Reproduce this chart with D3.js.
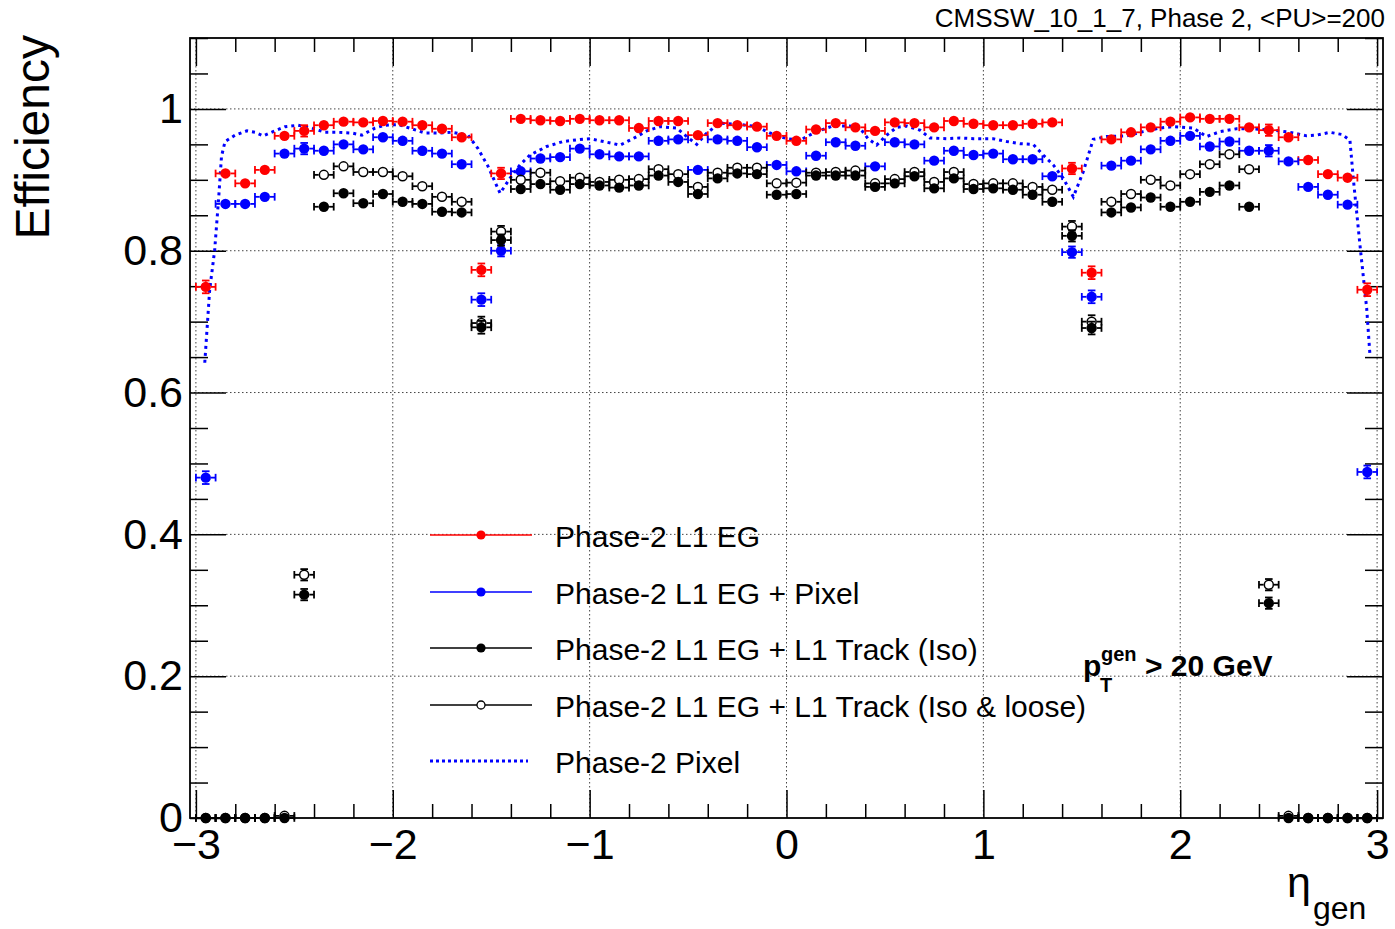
<!DOCTYPE html>
<html>
<head>
<meta charset="utf-8">
<script src="https://cdn.jsdelivr.net/npm/d3@7"></script>
<style>
body { margin: 0; background: #fff; }
text { font-family: "Liberation Sans", Arial, Helvetica, sans-serif; }
</style>
</head>
<body>
<script>
// eta bin centres (60 bins of 0.1)
var etaBins = [-2.95, -2.85, -2.75, -2.65, -2.55, -2.45, -2.35, -2.25, -2.15, -2.05,
  -1.95, -1.85, -1.75, -1.65, -1.55, -1.45, -1.35, -1.25, -1.15, -1.05,
  -0.95, -0.85, -0.75, -0.65, -0.55, -0.45, -0.35, -0.25, -0.15, -0.05,
  0.05, 0.15, 0.25, 0.35, 0.45, 0.55, 0.65, 0.75, 0.85, 0.95,
  1.05, 1.15, 1.25, 1.35, 1.45, 1.55, 1.65, 1.75, 1.85, 1.95,
  2.05, 2.15, 2.25, 2.35, 2.45, 2.55, 2.65, 2.75, 2.85, 2.95];
var binHalfWidth = 0.05;

// Phase-2 L1 EG
var effEG = [0.749, 0.909, 0.895, 0.914, 0.962, 0.969, 0.977, 0.982, 0.981, 0.983,
  0.982, 0.977, 0.972, 0.960, 0.773, 0.909, 0.986, 0.984, 0.983, 0.986,
  0.984, 0.984, 0.973, 0.983, 0.983, 0.963, 0.980, 0.977, 0.975, 0.962,
  0.955, 0.971, 0.980, 0.974, 0.969, 0.981, 0.980, 0.974, 0.983, 0.979,
  0.977, 0.977, 0.979, 0.981, 0.916, 0.769, 0.957, 0.967, 0.974, 0.982,
  0.988, 0.986, 0.986, 0.974, 0.970, 0.960, 0.928, 0.908, 0.903, 0.745];

// Phase-2 L1 EG + Pixel
var effEGPixel = [0.480, 0.866, 0.866, 0.876, 0.937, 0.944, 0.941, 0.950, 0.943, 0.960,
  0.955, 0.941, 0.937, 0.922, 0.731, 0.800, 0.912, 0.930, 0.932, 0.944,
  0.936, 0.933, 0.933, 0.955, 0.957, 0.914, 0.957, 0.955, 0.946, 0.921,
  0.912, 0.934, 0.953, 0.948, 0.919, 0.953, 0.950, 0.927, 0.941, 0.935,
  0.937, 0.929, 0.929, 0.905, 0.798, 0.735, 0.920, 0.927, 0.943, 0.955,
  0.962, 0.947, 0.954, 0.941, 0.941, 0.926, 0.890, 0.879, 0.865, 0.488];

// Phase-2 L1 EG + L1 Track (Iso)
var effTrkIso = [0, 0, 0, 0, 0, 0.315, 0.862, 0.881, 0.867, 0.880,
  0.869, 0.866, 0.855, 0.854, 0.692, 0.815, 0.887, 0.894, 0.886, 0.894,
  0.892, 0.889, 0.892, 0.906, 0.897, 0.880, 0.902, 0.909, 0.908, 0.879,
  0.880, 0.906, 0.906, 0.906, 0.890, 0.895, 0.905, 0.888, 0.902, 0.887,
  0.888, 0.886, 0.879, 0.869, 0.821, 0.691, 0.854, 0.861, 0.875, 0.862,
  0.869, 0.883, 0.892, 0.862, 0.303, 0, 0, 0, 0, 0];

// Phase-2 L1 EG + L1 Track (Iso & loose)
var effTrkIsoLoose = [0, 0, 0, 0, 0.003, 0.343, 0.907, 0.919, 0.911, 0.911,
  0.905, 0.891, 0.876, 0.869, 0.698, 0.827, 0.900, 0.910, 0.898, 0.903,
  0.897, 0.900, 0.901, 0.915, 0.908, 0.890, 0.910, 0.917, 0.917, 0.895,
  0.896, 0.910, 0.911, 0.913, 0.895, 0.901, 0.911, 0.897, 0.911, 0.894,
  0.895, 0.895, 0.890, 0.886, 0.834, 0.700, 0.869, 0.880, 0.900, 0.892,
  0.908, 0.922, 0.936, 0.915, 0.329, 0.003, 0, 0, 0, 0];

// statistical error (vertical), larger in the edge / gap bins
var errY = [0.009, 0.004, 0.004, 0.004, 0.004, 0.008, 0.004, 0.004, 0.004, 0.004,
  0.004, 0.004, 0.004, 0.004, 0.009, 0.008, 0.004, 0.004, 0.004, 0.004,
  0.004, 0.004, 0.004, 0.004, 0.004, 0.004, 0.004, 0.004, 0.004, 0.004,
  0.004, 0.004, 0.004, 0.004, 0.004, 0.004, 0.004, 0.004, 0.004, 0.004,
  0.004, 0.004, 0.004, 0.004, 0.008, 0.009, 0.004, 0.004, 0.004, 0.004,
  0.004, 0.004, 0.004, 0.004, 0.008, 0.004, 0.004, 0.004, 0.004, 0.009];

// Phase-2 Pixel (fine binned curve)
var etaPixel = [-2.955, -2.93, -2.905, -2.885, -2.87, -2.852, -2.801, -2.741, -2.699, -2.659,
  -2.608, -2.547, -2.481, -2.411, -2.344, -2.278, -2.208, -2.157, -2.090, -2.039,
  -1.973, -1.904, -1.836, -1.770, -1.700, -1.618, -1.567, -1.516, -1.455, -1.405,
  -1.354, -1.303, -1.218, -1.135, -1.049, -0.998, -0.913, -0.845, -0.780, -0.710,
  -0.642, -0.558, -0.507, -0.456, -0.405, -0.338, -0.236, -0.151, -0.084, 0.001,
  0.069, 0.153, 0.236, 0.322, 0.373, 0.414, 0.458, 0.509, 0.560, 0.610,
  0.678, 0.729, 0.814, 0.881, 0.949, 1.050, 1.118, 1.186, 1.253, 1.304,
  1.355, 1.406, 1.457, 1.507, 1.558, 1.626, 1.728, 1.812, 1.897, 1.964,
  2.066, 2.134, 2.202, 2.286, 2.371, 2.472, 2.557, 2.642, 2.693, 2.760,
  2.820, 2.862, 2.879, 2.913, 2.947, 2.963];
var effPixel = [0.642, 0.745, 0.800, 0.872, 0.933, 0.954, 0.963, 0.969, 0.967, 0.962,
  0.968, 0.975, 0.977, 0.973, 0.967, 0.967, 0.966, 0.963, 0.973, 0.977,
  0.978, 0.972, 0.966, 0.966, 0.967, 0.963, 0.944, 0.919, 0.881, 0.902,
  0.921, 0.935, 0.947, 0.954, 0.957, 0.958, 0.953, 0.949, 0.958, 0.969,
  0.975, 0.973, 0.961, 0.950, 0.966, 0.980, 0.978, 0.975, 0.966, 0.958,
  0.956, 0.968, 0.976, 0.976, 0.973, 0.958, 0.949, 0.963, 0.974, 0.976,
  0.970, 0.959, 0.958, 0.959, 0.958, 0.958, 0.954, 0.951, 0.950, 0.935,
  0.921, 0.902, 0.876, 0.911, 0.957, 0.961, 0.962, 0.968, 0.973, 0.975,
  0.973, 0.961, 0.968, 0.972, 0.972, 0.970, 0.967, 0.962, 0.963, 0.967,
  0.964, 0.956, 0.902, 0.808, 0.719, 0.656];

var xTicks = [-3, -2, -1, 0, 1, 2, 3];
var yTicks = [0, 0.2, 0.4, 0.6, 0.8, 1];

var legendLabels = ["Phase-2 L1 EG", "Phase-2 L1 EG + Pixel", "Phase-2 L1 EG + L1 Track (Iso)",
  "Phase-2 L1 EG + L1 Track (Iso & loose)", "Phase-2 Pixel"];

// canvas
var width = 1395;
var height = 929;
var frame = { left: 190, right: 1383, top: 38, bottom: 818 };

var svg = d3.select("body")
  .append("svg")
  .attr("width", width)
  .attr("height", height);

var xScale = d3.scaleLinear().domain([-3.03, 3.03]).range([frame.left, frame.right]);
var yScale = d3.scaleLinear().domain([0, 1.1]).range([frame.bottom, frame.top]);

var xMinor = d3.range(-3, 3.001, 0.2).map(function(d) { return +d.toFixed(2); })
  .filter(function(d) { return xTicks.indexOf(d) < 0; });
var yMinor = d3.range(0, 1.101, 0.05).map(function(d) { return +d.toFixed(2); })
  .filter(function(d) { return yTicks.indexOf(d) < 0; });

// grid (dotted)
var grid = svg.append("g").attr("class", "grid")
  .attr("stroke", "#444")
  .attr("stroke-width", 1)
  .attr("stroke-dasharray", "1.5,2.5");
grid.selectAll("line.gx").data(xTicks).enter().append("line")
  .attr("class", "gx")
  .attr("x1", function(d) { return xScale(d); })
  .attr("x2", function(d) { return xScale(d); })
  .attr("y1", frame.top).attr("y2", frame.bottom);
grid.selectAll("line.gy").data(yTicks.slice(1)).enter().append("line")
  .attr("class", "gy")
  .attr("y1", function(d) { return yScale(d); })
  .attr("y2", function(d) { return yScale(d); })
  .attr("x1", frame.left).attr("x2", frame.right);

// ticks on all four sides
function tickAxis(axis, values, size, transform) {
  var g = svg.append("g")
    .attr("transform", transform)
    .call(axis.tickValues(values).tickSize(size).tickSizeOuter(0).tickFormat(""));
  g.select(".domain").remove();
  g.selectAll("line").attr("stroke", "#000").attr("stroke-width", 1.5);
}
tickAxis(d3.axisRight(yScale), yTicks, 36, "translate(" + frame.left + ",0)");
tickAxis(d3.axisRight(yScale), yMinor, 18, "translate(" + frame.left + ",0)");
tickAxis(d3.axisLeft(yScale), yTicks, 36, "translate(" + frame.right + ",0)");
tickAxis(d3.axisLeft(yScale), yMinor, 18, "translate(" + frame.right + ",0)");
tickAxis(d3.axisTop(xScale), xTicks, 28, "translate(0," + frame.bottom + ")");
tickAxis(d3.axisTop(xScale), xMinor, 14, "translate(0," + frame.bottom + ")");
tickAxis(d3.axisBottom(xScale), xTicks, 28, "translate(0," + frame.top + ")");
tickAxis(d3.axisBottom(xScale), xMinor, 14, "translate(0," + frame.top + ")");

// tick labels
var yLabels = svg.append("g")
  .attr("transform", "translate(" + frame.left + ",0)")
  .call(d3.axisLeft(yScale).tickValues(yTicks).tickSize(0).tickPadding(7)
    .tickFormat(function(d) { return (d === 0 || d === 1) ? d3.format("d")(d) : d3.format(".1f")(d); }));
yLabels.select(".domain").remove();
yLabels.selectAll("text")
  .style("font-family", "'Liberation Sans', Arial, sans-serif")
  .style("font-size", "43px")
  .attr("fill", "#000");

var xLabels = svg.append("g")
  .attr("transform", "translate(0," + frame.bottom + ")")
  .call(d3.axisBottom(xScale).tickValues(xTicks).tickSize(0).tickPadding(10).tickFormat(d3.format("d")));
xLabels.select(".domain").remove();
xLabels.selectAll("text")
  .style("font-family", "'Liberation Sans', Arial, sans-serif")
  .style("font-size", "43px")
  .attr("fill", "#000");

// Phase-2 Pixel dotted curve
var pixelData = d3.zip(etaPixel, effPixel);
var pixelLine = d3.line()
  .x(function(d) { return xScale(d[0]); })
  .y(function(d) { return yScale(d[1]); });
svg.append("path")
  .datum(pixelData)
  .attr("d", pixelLine)
  .attr("fill", "none")
  .attr("stroke", "#0000ff")
  .attr("stroke-width", 3)
  .attr("stroke-dasharray", "3,4");

// points with error bars (ROOT style: bars stop at marker edge, with end caps)
var markerR = 5.2;
var capHalf = 3.8;

function drawSeries(values, color, open) {
  var g = svg.append("g").attr("stroke", color).attr("stroke-width", 1.8);
  var pts = etaBins.map(function(eta, i) { return { eta: eta, v: values[i], e: errY[i] }; });
  var p = g.selectAll("g.pt").data(pts).enter().append("g").attr("class", "pt");

  // horizontal error bar, left and right of marker
  p.append("line")
    .attr("x1", function(d) { return xScale(d.eta - binHalfWidth); })
    .attr("x2", function(d) { return xScale(d.eta) - markerR; })
    .attr("y1", function(d) { return yScale(d.v); })
    .attr("y2", function(d) { return yScale(d.v); });
  p.append("line")
    .attr("x1", function(d) { return xScale(d.eta) + markerR; })
    .attr("x2", function(d) { return xScale(d.eta + binHalfWidth); })
    .attr("y1", function(d) { return yScale(d.v); })
    .attr("y2", function(d) { return yScale(d.v); });
  [-1, 1].forEach(function(s) {
    p.append("line")
      .attr("x1", function(d) { return xScale(d.eta + s * binHalfWidth); })
      .attr("x2", function(d) { return xScale(d.eta + s * binHalfWidth); })
      .attr("y1", function(d) { return yScale(d.v) - capHalf; })
      .attr("y2", function(d) { return yScale(d.v) + capHalf; });
  });

  // vertical error bar, only where it sticks out of the marker
  var pv = p.filter(function(d) { return d.v > 0 && (yScale(d.v) - yScale(d.v + d.e)) > markerR; });
  [-1, 1].forEach(function(s) {
    pv.append("line")
      .attr("x1", function(d) { return xScale(d.eta); })
      .attr("x2", function(d) { return xScale(d.eta); })
      .attr("y1", function(d) { return yScale(d.v) - s * markerR; })
      .attr("y2", function(d) { return yScale(d.v + s * d.e); });
    pv.append("line")
      .attr("x1", function(d) { return xScale(d.eta) - capHalf; })
      .attr("x2", function(d) { return xScale(d.eta) + capHalf; })
      .attr("y1", function(d) { return yScale(d.v + s * d.e); })
      .attr("y2", function(d) { return yScale(d.v + s * d.e); });
  });

  p.append("circle")
    .attr("cx", function(d) { return xScale(d.eta); })
    .attr("cy", function(d) { return yScale(d.v); })
    .attr("r", open ? markerR - 0.7 : markerR)
    .attr("fill", open ? "none" : color)
    .attr("stroke", open ? color : "none")
    .attr("stroke-width", 1.5);
}

drawSeries(effEG, "#ff0000", false);
drawSeries(effEGPixel, "#0000ff", false);
drawSeries(effTrkIso, "#000000", false);
drawSeries(effTrkIsoLoose, "#000000", true);

// frame
svg.append("rect")
  .attr("x", frame.left).attr("y", frame.top)
  .attr("width", frame.right - frame.left)
  .attr("height", frame.bottom - frame.top)
  .attr("fill", "none")
  .attr("stroke", "#000")
  .attr("stroke-width", 1.8);

// legend
var legendY = [535, 592, 648, 705, 761];
var legendStyle = [
  { color: "#ff0000", marker: "filled" },
  { color: "#0000ff", marker: "filled" },
  { color: "#000000", marker: "filled" },
  { color: "#000000", marker: "open" },
  { color: "#0000ff", marker: "dotted" }
];
var legend = svg.append("g").attr("class", "legend");
legendLabels.forEach(function(label, i) {
  var st = legendStyle[i];
  var y = legendY[i];
  if (st.marker === "dotted") {
    legend.append("line")
      .attr("x1", 430).attr("x2", 528).attr("y1", y).attr("y2", y)
      .attr("stroke", st.color).attr("stroke-width", 3).attr("stroke-dasharray", "3,3");
  } else {
    legend.append("line")
      .attr("x1", 430).attr("x2", 532).attr("y1", y).attr("y2", y)
      .attr("stroke", st.color).attr("stroke-width", 1.5);
    legend.append("circle")
      .attr("cx", 481).attr("cy", y).attr("r", st.marker === "open" ? 4 : 4.6)
      .attr("fill", st.marker === "open" ? "#fff" : st.color)
      .attr("stroke", st.marker === "open" ? st.color : "none")
      .attr("stroke-width", 1.3);
  }
  legend.append("text")
    .attr("x", 555).attr("y", y + 12)
    .style("font-size", "30px")
    .attr("fill", "#000")
    .text(label);
});

// pT cut annotation
svg.append("text").attr("x", 1083).attr("y", 676)
  .style("font-size", "30px").style("font-weight", "bold").text("p");
svg.append("text").attr("x", 1101).attr("y", 661)
  .style("font-size", "20px").style("font-weight", "bold").text("gen");
svg.append("text").attr("x", 1100).attr("y", 692)
  .style("font-size", "20px").style("font-weight", "bold").text("T");
svg.append("text").attr("x", 1145).attr("y", 676)
  .style("font-size", "30px").style("font-weight", "bold").text("> 20 GeV");

// header
svg.append("text")
  .attr("x", 1385).attr("y", 27)
  .attr("text-anchor", "end")
  .style("font-size", "26px")
  .text("CMSSW_10_1_7, Phase 2, <PU>=200");

// axis titles
svg.append("text")
  .attr("transform", "translate(49,35) rotate(-90)")
  .attr("text-anchor", "end")
  .style("font-size", "48px")
  .text("Efficiency");

svg.append("text").attr("x", 1287).attr("y", 897)
  .style("font-size", "43px").text("\u03b7");
svg.append("text").attr("x", 1313).attr("y", 919)
  .style("font-size", "32px").text("gen");
</script>
</body>
</html>
